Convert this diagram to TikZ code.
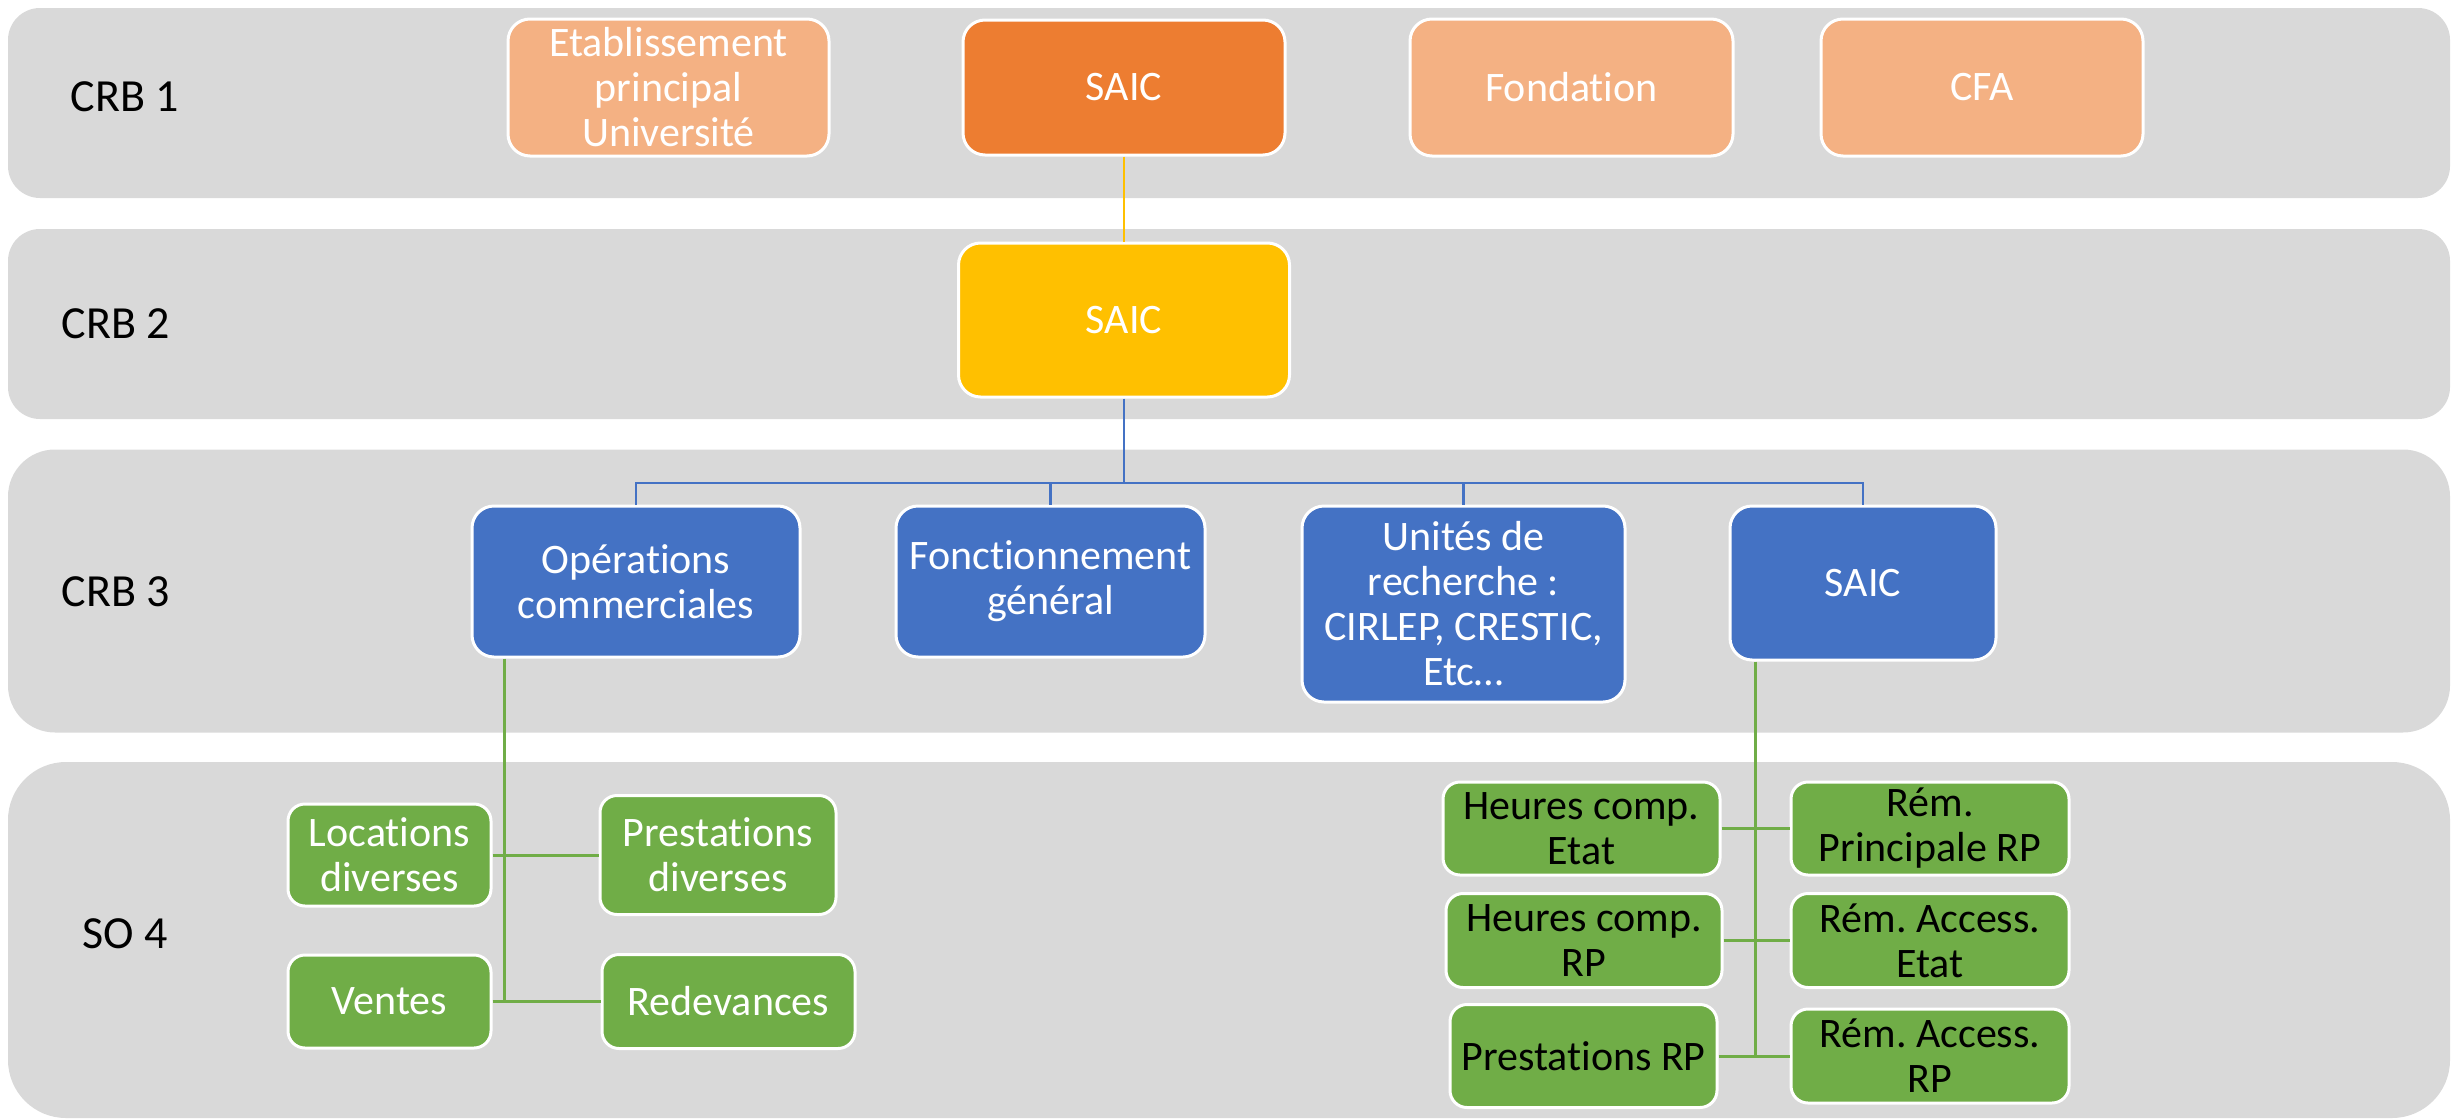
\documentclass[tikz,border=0pt]{standalone}
\usepackage{fontspec}
\setmainfont[RawFeature={-liga;-dlig;-clig}]{Carlito}
\frenchspacing
\definecolor{bandgray}{HTML}{D9D9D9}
\definecolor{orgdark}{HTML}{ED7D31}
\definecolor{orglight}{HTML}{F4B183}
\definecolor{yel}{HTML}{FFC000}
\definecolor{blu}{HTML}{4472C4}
\definecolor{grn}{HTML}{70AD47}
\tikzset{
  band/.style={fill=bandgray, draw=none, inner sep=0pt},
  lbl/.style={font=\fontsize{46}{50}\selectfont, text=black, inner sep=0pt},
  box/.style={draw=white, line width=3pt, inner sep=0pt, align=center,
    font=\fontsize{42}{45}\selectfont, text=white, rounded corners=22pt},
  gbox/.style={box, fill=grn, rounded corners=17pt},
  conn/.style={line width=2.5pt},
}
\begin{document}
\begin{tikzpicture}[x=1pt,y=-1pt]
\useasboundingbox (0,0) rectangle (2458,1119);
% bands
\node[band, minimum width=2442pt, minimum height=190pt, rounded corners=32pt] (b1) at (1229,103) {};
\node[band, minimum width=2442pt, minimum height=190pt, rounded corners=32pt] (b2) at (1229,324) {};
\node[band, minimum width=2442pt, minimum height=283pt, rounded corners=47pt] (b3) at (1229,591) {};
\node[band, minimum width=2442pt, minimum height=356pt, rounded corners=58pt] (b4) at (1229,940) {};
% labels
\node[lbl] (l1) at (125,97) {CRB 1};
\node[lbl] (l2) at (116,324) {CRB 2};
\node[lbl] (l3) at (116,592) {CRB 3};
\node[lbl] (l4) at (125,934) {SO 4};
% row 1
\node[box, fill=orglight, minimum width=321pt, minimum height=137pt] (etab) at (668.5,87.5) {Etablissement\\principal\\Université};
\node[box, fill=orgdark, minimum width=322pt, minimum height=135pt] (saic1) at (1124,87.5) {SAIC};
\node[box, fill=orglight, minimum width=323pt, minimum height=137pt] (fond) at (1571.5,87.5) {Fondation};
\node[box, fill=orglight, minimum width=322pt, minimum height=137pt] (cfa) at (1982,87.5) {CFA};
% row 2
\node[box, fill=yel, minimum width=331pt, minimum height=154pt] (saic2) at (1124,320) {SAIC};
% row 3
\node[box, fill=blu, minimum width=328pt, minimum height=151pt] (ops) at (636,581.5) {Opérations\\commerciales};
\node[box, fill=blu, minimum width=309pt, minimum height=151pt] (fonc) at (1050.5,581.5) {Fonctionnement\\général};
\node[box, fill=blu, minimum width=323pt, minimum height=196pt] (unit) at (1463.5,604) {Unités de\\recherche :\\CIRLEP, CRESTIC,\\Etc…};
\node[box, fill=blu, minimum width=266pt, minimum height=154pt] (saic3) at (1863,583) {SAIC};
% row 4 left
\node[gbox, minimum width=203pt, minimum height=102pt] (loc) at (389.5,855) {Locations\\diverses};
\node[gbox, minimum width=236pt, minimum height=119pt] (prest) at (718,855) {Prestations\\diverses};
\node[gbox, minimum width=203pt, minimum height=93pt] (vent) at (389.5,1001.5) {Ventes};
\node[gbox, minimum width=253pt, minimum height=94pt] (redev) at (728.5,1001.5) {Redevances};
% row 4 right
\node[gbox, text=black, minimum width=277pt, minimum height=93pt] (hce) at (1581.5,828.5) {Heures comp.\\Etat};
\node[gbox, text=black, minimum width=278pt, minimum height=93pt] (rpr) at (1930,828.5) {Rém.\\Principale RP};
\node[gbox, text=black, minimum width=276pt, minimum height=94pt] (hcr) at (1584,940.5) {Heures comp.\\RP};
\node[gbox, text=black, minimum width=278pt, minimum height=94pt] (rae) at (1930,940.5) {Rém. Access.\\Etat};
\node[gbox, text=black, minimum width=267pt, minimum height=103pt] (prp) at (1583.5,1056) {Prestations RP};
\node[gbox, text=black, minimum width=278pt, minimum height=94pt] (rar) at (1930,1056) {Rém. Access.\\RP};
% connectors
\draw[conn, yel] (saic1.south) -- (saic2.north);
\coordinate (bus) at (1124,483);
\draw[conn, blu] (saic2.south) -- (bus);
\draw[conn, blu] (ops.north) |- (bus) -| (saic3.north);
\draw[conn, blu] (fonc.north) -- (fonc.north |- bus);
\draw[conn, blu] (unit.north) -- (unit.north |- bus);
\coordinate (gl) at (504,1001.5);
\draw[conn, grn, line width=3pt] (ops.south -| gl) -- (gl);
\draw[conn, grn, line width=3pt] (loc.east) -- (prest.west);
\draw[conn, grn, line width=3pt] (vent.east) -- (redev.west);
\coordinate (gr) at (1755,1056);
\draw[conn, grn, line width=3pt] (saic3.south -| gr) -- (gr);
\draw[conn, grn, line width=3pt] (hce.east) -- (rpr.west);
\draw[conn, grn, line width=3pt] (hcr.east) -- (rae.west);
\draw[conn, grn, line width=3pt] (prp.east) -- (rar.west);
\end{tikzpicture}
\end{document}
